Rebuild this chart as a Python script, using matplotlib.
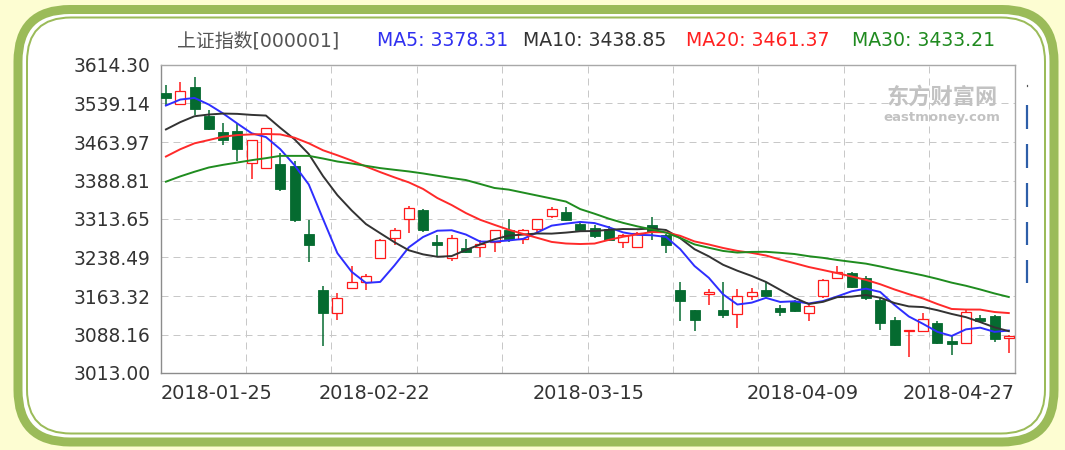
import matplotlib
matplotlib.use('Agg')
import matplotlib.pyplot as plt
from matplotlib.patches import FancyBboxPatch, Rectangle, Polygon

# ---------------- data ----------------
dates = ["2018-01-25", "2018-01-26", "2018-01-29", "2018-01-30", "2018-01-31",
         "2018-02-01", "2018-02-02", "2018-02-05", "2018-02-06", "2018-02-07",
         "2018-02-08", "2018-02-09", "2018-02-12", "2018-02-13", "2018-02-14",
         "2018-02-22", "2018-02-23", "2018-02-26", "2018-02-27", "2018-02-28",
         "2018-03-01", "2018-03-02", "2018-03-05", "2018-03-06", "2018-03-07",
         "2018-03-08", "2018-03-09", "2018-03-12", "2018-03-13", "2018-03-14",
         "2018-03-15", "2018-03-16", "2018-03-19", "2018-03-20", "2018-03-21",
         "2018-03-22", "2018-03-23", "2018-03-26", "2018-03-27", "2018-03-28",
         "2018-03-29", "2018-03-30", "2018-04-02", "2018-04-03", "2018-04-04",
         "2018-04-09", "2018-04-10", "2018-04-11", "2018-04-12", "2018-04-13",
         "2018-04-16", "2018-04-17", "2018-04-18", "2018-04-19", "2018-04-20",
         "2018-04-23", "2018-04-24", "2018-04-25", "2018-04-26", "2018-04-27"]

opens = [3559.5, 3538.9, 3571.2, 3515.6, 3484.0, 3485.3, 3423.9, 3413.0, 3420.7, 3417.5,
         3285.1, 3175.3, 3130.1, 3179.9, 3190.2, 3238.0, 3276.7, 3312.9, 3331.6, 3268.9,
         3236.7, 3257.4, 3259.3, 3269.0, 3291.6, 3275.4, 3293.5, 3319.3, 3327.1, 3304.5,
         3296.1, 3294.8, 3269.0, 3259.3, 3302.6, 3281.9, 3175.4, 3135.3, 3166.9, 3136.6,
         3128.2, 3162.4, 3175.4, 3139.8, 3152.8, 3130.1, 3162.4, 3199.2, 3207.6, 3198.0,
         3156.0, 3117.2, 3094.6, 3094.6, 3110.8, 3075.2, 3072.0, 3120.5, 3123.7, 3081.7]
highs = [3575.7, 3580.2, 3590.5, 3527.2, 3500.1, 3498.2, 3468.5, 3492.0, 3442.0, 3427.2,
         3310.9, 3183.7, 3168.9, 3221.8, 3205.7, 3275.4, 3296.7, 3340.0, 3333.5, 3281.9,
         3283.2, 3274.1, 3272.2, 3292.9, 3312.9, 3293.5, 3314.2, 3336.8, 3336.8, 3306.4,
         3301.3, 3299.9, 3285.0, 3288.4, 3317.4, 3285.1, 3191.5, 3136.6, 3176.6, 3191.5,
         3177.3, 3179.9, 3191.5, 3146.3, 3156.0, 3146.3, 3196.0, 3221.8, 3210.9, 3202.5,
         3159.2, 3121.7, 3097.7, 3130.1, 3114.0, 3085.0, 3136.6, 3125.6, 3125.6, 3086.9]
lows = [3533.7, 3538.9, 3517.6, 3488.0, 3457.5, 3427.2, 3391.6, 3411.0, 3369.0, 3307.7,
        3230.2, 3065.6, 3117.2, 3179.9, 3175.4, 3235.4, 3262.5, 3286.4, 3288.4, 3241.8,
        3231.5, 3246.4, 3239.9, 3248.3, 3269.0, 3265.8, 3288.4, 3315.5, 3309.0, 3288.4,
        3276.7, 3270.3, 3256.1, 3256.1, 3272.2, 3246.4, 3114.0, 3094.6, 3146.3, 3120.5,
        3101.0, 3156.0, 3162.4, 3123.7, 3131.5, 3114.0, 3159.2, 3198.0, 3179.9, 3156.0,
        3097.7, 3065.6, 3044.3, 3093.0, 3068.8, 3048.1, 3071.0, 3112.5, 3074.0, 3052.7]
closes = [3549.8, 3562.8, 3528.5, 3489.8, 3467.8, 3451.1, 3467.8, 3491.7, 3372.3, 3310.9,
          3262.5, 3130.1, 3159.2, 3190.2, 3202.5, 3272.2, 3291.6, 3334.8, 3291.6, 3263.8,
          3276.7, 3249.6, 3265.7, 3291.6, 3275.4, 3291.6, 3312.9, 3332.2, 3311.0, 3291.6,
          3280.6, 3272.2, 3281.9, 3287.1, 3288.4, 3263.8, 3152.8, 3117.2, 3172.1, 3126.9,
          3164.3, 3170.8, 3164.3, 3132.1, 3133.4, 3143.0, 3194.7, 3209.6, 3181.8, 3159.2,
          3110.8, 3067.5, 3097.7, 3119.2, 3072.0, 3070.1, 3132.1, 3114.0, 3078.5, 3085.0]

ma5 = [3535.2, 3546.8, 3550.0, 3537.1, 3519.7, 3500.0, 3481.0, 3473.6, 3450.1, 3418.8,
       3381.0, 3313.5, 3247.0, 3210.6, 3188.9, 3190.8, 3223.1, 3258.3, 3278.5, 3290.8,
       3291.7, 3283.3, 3269.5, 3269.5, 3271.8, 3274.8, 3287.4, 3300.7, 3304.6, 3307.9,
       3305.7, 3297.5, 3287.5, 3282.7, 3282.0, 3278.7, 3254.8, 3221.9, 3198.9, 3166.6,
       3146.7, 3150.3, 3159.7, 3151.7, 3153.0, 3148.7, 3153.5, 3162.6, 3172.5, 3177.7,
       3171.2, 3145.8, 3123.4, 3108.9, 3093.4, 3085.3, 3098.2, 3101.5, 3093.3, 3095.9]
ma10 = [3488.5, 3502.7, 3514.3, 3517.6, 3519.5, 3518.9, 3516.9, 3515.6, 3491.7, 3469.3,
        3440.5, 3397.3, 3360.3, 3330.4, 3303.8, 3285.9, 3268.3, 3252.6, 3244.6, 3239.9,
        3241.3, 3253.2, 3263.9, 3274.0, 3281.3, 3283.2, 3285.4, 3285.1, 3287.1, 3289.8,
        3290.2, 3292.5, 3294.1, 3293.7, 3295.0, 3292.2, 3276.2, 3254.7, 3240.8, 3224.3,
        3212.7, 3202.5, 3190.8, 3175.3, 3159.8, 3147.7, 3151.9, 3161.1, 3162.1, 3165.3,
        3160.0, 3149.6, 3143.0, 3141.7, 3135.6, 3128.3, 3122.0, 3112.4, 3102.1, 3094.7]
ma20 = [3435.6, 3449.8, 3461.4, 3467.8, 3474.3, 3477.5, 3478.8, 3479.5, 3478.8, 3472.4,
        3461.4, 3447.8, 3438.1, 3427.8, 3416.2, 3405.2, 3394.9, 3385.2, 3372.3, 3354.6,
        3340.9, 3325.2, 3312.1, 3302.2, 3292.6, 3284.6, 3276.8, 3268.9, 3265.8, 3264.8,
        3265.7, 3272.9, 3279.0, 3283.8, 3288.1, 3287.7, 3280.8, 3269.9, 3263.9, 3257.1,
        3251.4, 3247.5, 3242.4, 3234.5, 3227.4, 3219.9, 3214.0, 3207.9, 3201.4, 3194.8,
        3186.3, 3176.1, 3166.9, 3158.5, 3147.7, 3138.0, 3136.9, 3136.8, 3132.1, 3130.0]
ma30 = [3386.5, 3396.8, 3405.9, 3414.2, 3419.4, 3423.9, 3428.5, 3432.4, 3436.9, 3436.9,
        3436.9, 3431.7, 3425.9, 3422.0, 3417.5, 3413.0, 3409.7, 3406.5, 3402.6, 3398.1,
        3393.6, 3389.7, 3382.0, 3374.2, 3371.0, 3365.2, 3359.4, 3353.6, 3347.7, 3333.0,
        3324.0, 3314.3, 3306.1, 3299.3, 3293.4, 3287.1, 3276.6, 3264.1, 3257.5, 3251.3,
        3248.1, 3249.4, 3249.6, 3247.6, 3245.3, 3241.0, 3237.8, 3233.6, 3230.0, 3226.5,
        3221.0, 3214.9, 3209.3, 3203.5, 3196.8, 3189.4, 3183.3, 3176.1, 3168.3, 3161.4]

y_ticks = [3013.00, 3088.16, 3163.32, 3238.49, 3313.65, 3388.81, 3463.97, 3539.14, 3614.30]
x_tick_labels = ["2018-01-25", "2018-02-22", "2018-03-15", "2018-04-09", "2018-04-27"]
title_name = "上证指数[000001]"
ma_labels = ["MA5: 3378.31", "MA10: 3438.85", "MA20: 3461.37", "MA30: 3433.21"]
watermark_cn = "东方财富网"
watermark_en = "eastmoney.com"

# ---------------- style ----------------
W, H = 1065, 450
RED = '#ff1a1a'
GREEN = '#056b30'
MA_COLORS = ['#2e2eff', '#333333', '#ff2a2a', '#1f8c1f']
TITLE_COLORS = ['#3030f0', '#333333', '#ff2020', '#1f8a1f']
BORDER = '#9bbb59'
BG = '#fdfdd2'
LBL = '#333333'
PX = 0.72  # points per pixel at dpi 100

fig = plt.figure(figsize=(W / 100, H / 100), dpi=100)
fig.patch.set_facecolor(BG)

# background axes in pixel coordinates
bg = fig.add_axes([0, 0, 1, 1])
bg.set_xlim(0, W)
bg.set_ylim(H, 0)
bg.axis('off')
bg.add_patch(FancyBboxPatch((18, 9.5), 1036, 432.5,
                            boxstyle="round,pad=0,rounding_size=52",
                            facecolor='white', edgecolor=BORDER, lw=9 * PX))
bg.add_patch(FancyBboxPatch((27, 17.5), 1018, 416,
                            boxstyle="round,pad=0,rounding_size=44",
                            facecolor='none', edgecolor=BORDER, lw=2 * PX))

# title pieces
title_font = ['DejaVu Sans', 'Noto Sans CJK SC']
pieces = [(title_name, 177, '#555555')] + list(zip(ma_labels, [377, 523, 686, 852], TITLE_COLORS))
for s, x, c in pieces:
    bg.text(x, 41, s, ha='left', va='center', color=c, fontsize=13.6, family=title_font)

# decorations at the right (cut-off marks)
bg.plot([1027, 1027], [84.5, 86], color='#555555', lw=1.2 * PX)
for y0, y1 in [(105, 129), (144, 168), (183, 207), (222, 245), (260, 283)]:
    bg.plot([1027, 1027], [y0, y1], color='#2d5ea8', lw=2.2 * PX, solid_capstyle='butt')

# ---------------- main axes ----------------
L, R, T, B = 160.5, 1014.5, 65, 373
ax = fig.add_axes([L / W, (H - B) / H, (R - L) / W, (B - T) / H])
ax.set_facecolor('white')
n = len(closes)
x0, x1 = -0.38, 59.4
ax.set_xlim(x0, x1)
ax.set_ylim(y_ticks[0], y_ticks[-1])

# grid
for yv in y_ticks[1:-1]:
    ax.axhline(yv, color='#c8c8c8', lw=1 * PX, ls=(0, (7, 5)), zorder=0)
for k in range(1, 10):
    ax.axvline(x0 + k * (x1 - x0) / 10, color='#c8c8c8', lw=1 * PX, ls=(0, (7, 5)), zorder=0)

# candles
bw = 0.7
for i in range(n):
    o, h, l, c = opens[i], highs[i], lows[i], closes[i]
    if c >= o:
        top, bot = c, o
        if top - bot < 1.5:
            top = bot + 1.5
        ax.vlines(i, l, bot, color=RED, lw=1.1, zorder=3)
        ax.vlines(i, top, h, color=RED, lw=1.1, zorder=3)
        ax.add_patch(Rectangle((i - bw / 2, bot), bw, top - bot, facecolor='white',
                               edgecolor=RED, lw=0.9, zorder=3))
    else:
        ax.vlines(i, l, h, color=GREEN, lw=1.1, zorder=3)
        ax.add_patch(Rectangle((i - bw / 2, c), bw, max(o - c, 1.5), facecolor=GREEN,
                               edgecolor=GREEN, lw=0.6, zorder=3))

xs = list(range(n))
for series, col in zip([ma5, ma10, ma20, ma30], MA_COLORS):
    ax.plot(xs, series, color=col, lw=1.4, zorder=4, solid_joinstyle='round')

# axes styling
for s in ['left', 'bottom', 'top', 'right']:
    ax.spines[s].set_color('#a8a8a8')
    ax.spines[s].set_linewidth(1.0)
ax.spines['left'].set_color('#8c8c8c')
ax.spines['bottom'].set_color('#8c8c8c')
ax.set_yticks(y_ticks)
ax.set_yticklabels([f"{v:.2f}" for v in y_ticks], fontsize=13.4, color=LBL, family='DejaVu Sans')
ax.tick_params(axis='y', length=0, pad=10 * PX)
ax.set_xticks([])

xt = ax.get_xaxis_transform()
for j, lab in enumerate(x_tick_labels):
    idx = dates.index(lab)
    if j == 0:
        xp, ha = x0, 'left'
    elif j == len(x_tick_labels) - 1:
        xp, ha = x1, 'right'
    else:
        xp, ha = idx - 0.42, 'center'
    ax.text(xp, -0.065, lab, transform=xt, ha=ha, va='center', fontsize=13.9,
            color=LBL, family='DejaVu Sans')

# watermark
wm = '#c2c2c2'
ax.text(0.915, 0.895, watermark_cn, transform=ax.transAxes, ha='center', va='center',
        fontsize=16, color=wm, family=['Noto Sans CJK SC'], fontweight='bold', zorder=1)
ax.text(0.915, 0.83, watermark_en, transform=ax.transAxes, ha='center', va='center',
        fontsize=9.5, color=wm, family='DejaVu Sans', fontweight='bold', zorder=1)
bg.add_patch(Polygon([(846, 110), (858, 86), (872, 82), (876, 86), (864, 96), (858, 118)],
                     closed=True, facecolor=wm, edgecolor='none', zorder=5))
bg.add_patch(Polygon([(858, 120), (870, 98), (878, 94), (874, 104), (864, 124)],
                     closed=True, facecolor='#d4d4d4', edgecolor='none', zorder=5))

fig.savefig('out.png', dpi=100, facecolor=BG)
